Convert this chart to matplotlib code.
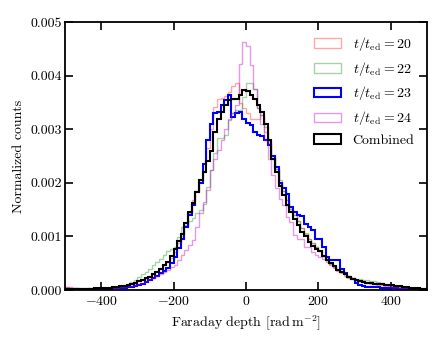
import numpy as np
import matplotlib
matplotlib.use("Agg")
import matplotlib.pyplot as plt
from matplotlib.patches import Rectangle
from matplotlib.ticker import FormatStrFormatter

plt.rcParams["font.family"] = "serif"
plt.rcParams["font.serif"] = ["cmr10"]
plt.rcParams["mathtext.fontset"] = "cm"
plt.rcParams["axes.formatter.use_mathtext"] = True
plt.rcParams["font.size"] = 10

#-Data (normalized counts, in units of 1e-3, bins of 10 rad m^-2 from -500 to 500)----#

edges = np.arange(-500, 501, 10)
scale = 1e-3

t20 = [0.06, 0.05, 0.04, 0.03, 0.02, 0.02, 0.02, 0.02, 0.02, 0.03,
       0.03, 0.03, 0.04, 0.04, 0.05, 0.06, 0.07, 0.09, 0.11, 0.14,
       0.17, 0.20, 0.23, 0.27, 0.31, 0.36, 0.41, 0.46, 0.52, 0.60,
       0.71, 0.87, 1.00, 1.20, 1.43, 1.68, 1.85, 2.02, 2.37, 2.65,
       3.00, 3.42, 3.56, 3.58, 3.62, 3.70, 3.80, 3.86, 3.49, 3.40,
       3.30, 3.20, 3.20, 3.20, 3.26, 2.95, 2.75, 2.45, 2.25, 2.05,
       1.85, 1.68, 1.52, 1.40, 1.28, 1.15, 1.05, 0.96, 0.88, 0.80,
       0.72, 0.63, 0.56, 0.48, 0.42, 0.36, 0.31, 0.27, 0.23, 0.20,
       0.18, 0.17, 0.16, 0.15, 0.15, 0.14, 0.13, 0.12, 0.10, 0.09,
       0.08, 0.07, 0.06, 0.05, 0.04, 0.03, 0.03, 0.02, 0.02, 0.02]

t22 = [0.02, 0.02, 0.02, 0.02, 0.02, 0.02, 0.03, 0.03, 0.03, 0.03,
       0.03, 0.04, 0.04, 0.05, 0.06, 0.07, 0.09, 0.12, 0.15, 0.19,
       0.24, 0.29, 0.34, 0.40, 0.46, 0.52, 0.58, 0.65, 0.72, 0.76,
       0.80, 0.99, 1.18, 1.22, 1.28, 1.34, 1.43, 1.50, 1.60, 1.93,
       2.24, 2.55, 2.83, 2.83, 2.90, 3.20, 3.30, 3.36, 3.36, 3.60,
       3.86, 3.86, 3.76, 3.40, 3.26, 3.05, 2.80, 2.50, 2.25, 2.00,
       1.85, 1.68, 1.52, 1.40, 1.28, 1.16, 1.06, 0.96, 0.88, 0.80,
       0.72, 0.64, 0.57, 0.50, 0.44, 0.39, 0.34, 0.30, 0.26, 0.23,
       0.21, 0.20, 0.19, 0.18, 0.17, 0.16, 0.15, 0.13, 0.11, 0.10,
       0.08, 0.07, 0.06, 0.05, 0.04, 0.03, 0.03, 0.02, 0.02, 0.02]

t23 = [0.01, 0.01, 0.01, 0.01, 0.01, 0.01, 0.01, 0.02, 0.02, 0.02,
       0.02, 0.02, 0.02, 0.03, 0.03, 0.04, 0.04, 0.05, 0.06, 0.08,
       0.10, 0.12, 0.15, 0.18, 0.22, 0.27, 0.31, 0.36, 0.42, 0.50,
       0.62, 0.78, 0.96, 1.18, 1.40, 1.59, 1.83, 1.99, 2.35, 2.80,
       3.10, 3.30, 3.33, 3.45, 3.55, 3.64, 3.23, 3.30, 3.33, 3.20,
       3.11, 3.08, 2.95, 2.89, 2.87, 2.80, 2.70, 2.50, 2.30, 2.00,
       1.90, 1.80, 1.55, 1.45, 1.40, 1.38, 1.24, 1.18, 1.12, 0.96,
       0.96, 0.81, 0.62, 0.56, 0.56, 0.56, 0.40, 0.31, 0.24, 0.20,
       0.14, 0.10, 0.07, 0.06, 0.06, 0.05, 0.05, 0.04, 0.04, 0.03,
       0.03, 0.03, 0.02, 0.02, 0.02, 0.01, 0.01, 0.01, 0.01, 0.01]

t24 = [0.05, 0.04, 0.03, 0.03, 0.02, 0.02, 0.02, 0.02, 0.02, 0.02,
       0.03, 0.03, 0.03, 0.04, 0.04, 0.05, 0.06, 0.07, 0.08, 0.10,
       0.12, 0.14, 0.17, 0.20, 0.23, 0.26, 0.30, 0.34, 0.38, 0.43,
       0.47, 0.56, 0.65, 0.75, 0.84, 0.93, 1.18, 1.43, 1.65, 1.87,
       2.24, 2.45, 2.62, 2.80, 3.00, 3.17, 3.30, 3.45, 4.22, 4.63,
       4.56, 4.20, 3.76, 3.40, 3.10, 2.80, 2.45, 2.15, 1.90, 1.70,
       1.59, 1.37, 1.27, 1.03, 0.96, 0.96, 0.81, 0.81, 0.71, 0.66,
       0.62, 0.57, 0.53, 0.47, 0.43, 0.38, 0.34, 0.29, 0.25, 0.22,
       0.19, 0.17, 0.15, 0.13, 0.12, 0.11, 0.10, 0.09, 0.08, 0.07,
       0.06, 0.05, 0.04, 0.04, 0.03, 0.03, 0.02, 0.02, 0.02, 0.01]

combined = [0.01, 0.01, 0.01, 0.02, 0.02, 0.02, 0.02, 0.02, 0.03, 0.03,
            0.03, 0.04, 0.04, 0.05, 0.06, 0.07, 0.08, 0.09, 0.11, 0.13,
            0.17, 0.19, 0.22, 0.25, 0.29, 0.33, 0.39, 0.46, 0.53, 0.64,
            0.76, 0.92, 1.05, 1.26, 1.45, 1.62, 1.82, 2.05, 2.20, 2.40,
            2.60, 2.95, 3.20, 3.33, 3.45, 3.55, 3.56, 3.56, 3.64, 3.73,
            3.71, 3.64, 3.56, 3.45, 3.33, 3.10, 2.80, 2.45, 2.20, 1.95,
            1.78, 1.58, 1.45, 1.32, 1.21, 1.08, 1.00, 0.90, 0.83, 0.77,
            0.72, 0.64, 0.56, 0.50, 0.44, 0.38, 0.33, 0.29, 0.25, 0.21,
            0.19, 0.17, 0.15, 0.14, 0.13, 0.12, 0.12, 0.11, 0.10, 0.10,
            0.09, 0.08, 0.07, 0.06, 0.05, 0.04, 0.03, 0.03, 0.02, 0.02]

labels = [r"$t/t_{\rm ed} = 20$", r"$t/t_{\rm ed} = 22$", r"$t/t_{\rm ed} = 23$",
          r"$t/t_{\rm ed} = 24$", "Combined"]

#-Plot-------------------------------------------------------------------------------#

series = [t20, t22, t23, t24, combined]
colors = ["r", "g", "b", "m", "k"]
alphas = [0.35, 0.35, 1.0, 0.4, 1.0]
widths = [1.0, 1.0, 1.5, 1.0, 1.5]

fig = plt.figure(figsize=(4.42, 3.40), dpi=100)
ax = fig.add_axes([0.147, 0.147, 0.819, 0.788])

centres = edges[:-1] + 5
for vals, c, a, lw, lab in zip(series, colors, alphas, widths, labels):
    ax.hist(centres, bins=edges, weights=np.array(vals) * scale, histtype="step",
            color=c, alpha=a, lw=lw, label=lab)

# legend with empty boxes like the step-histogram defaults
handles = [Rectangle((0, 0), 1, 1, fill=False, edgecolor=c, alpha=a, lw=lw)
           for c, a, lw in zip(colors, alphas, widths)]
ax.legend(handles, labels, loc="upper right", frameon=False, fontsize=10)

ax.set_xlim(-500, 500)
ax.set_ylim(0, 0.005)
ax.set_xticks([-400, -200, 0, 200, 400])
ax.set_yticks([0, 0.001, 0.002, 0.003, 0.004, 0.005])
ax.yaxis.set_major_formatter(FormatStrFormatter("%.3f"))
ax.tick_params(direction="in", top=True, right=True, length=6, width=1.2)
ax.tick_params(axis="y", pad=2)
for s in ax.spines.values():
    s.set_linewidth(1.3)

ax.set_xlabel(r"Faraday depth [${\rm rad\,m^{-2}}$]")
ax.set_ylabel("Normalized counts")

fig.savefig("out.png", dpi=100)
